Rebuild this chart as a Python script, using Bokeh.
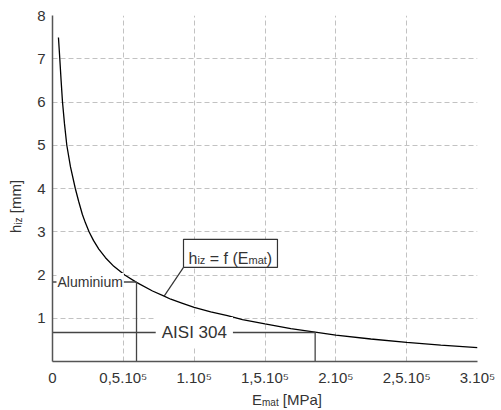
from bokeh.plotting import figure
from bokeh.models import Range1d, FixedTicker, Label, BoxAnnotation, Div
from bokeh.layouts import row, column
from bokeh.embed import file_html
from bokeh.resources import INLINE

# ---- data ----
E_curve = [4200, 5150, 6070, 7060, 8450, 10100, 12700, 16100, 18500, 21100,
           23300, 25800, 28900, 32700, 37400, 43300, 51000, 59300, 70600, 78800,
           83500, 91300, 100000, 111700, 123500, 134100, 150000, 168200, 185400,
           200000, 224700, 250000, 274100, 300000]
h_curve = [7.49, 7.00, 6.50, 6.00, 5.50, 5.00, 4.50, 4.00, 3.70, 3.40,
           3.20, 3.00, 2.80, 2.60, 2.40, 2.20, 2.00, 1.83, 1.63, 1.51,
           1.44, 1.35, 1.25, 1.15, 1.06, 0.97, 0.87, 0.76, 0.68,
           0.61, 0.52, 0.44, 0.38, 0.32]

materials = ["Aluminium", "AISI 304"]
E_mat = [59300, 185400]
h_mat = [1.84, 0.67]

x_ticks = [0, 50000, 100000, 150000, 200000, 250000, 300000]
x_tick_labels = ["0", "0,5.10\u2075", "1.10\u2075", "1,5.10\u2075", "2.10\u2075", "2,5.10\u2075", "3.10\u2075"]
y_ticks = [1, 2, 3, 4, 5, 6, 7, 8]
y_tick_labels = ["1", "2", "3", "4", "5", "6", "7", "8"]

x_title = ("E", "mat", "[MPa]")
y_title = ("h", "iz", "[mm]")
formula = ("h", "iz", " = f (E", "mat", ")")

FONT = "Liberation Sans"
TXT = "#333333"

p = figure(width=471, height=389, output_backend="svg", toolbar_location=None,
           x_range=Range1d(0, 300000), y_range=Range1d(0, 8),
           min_border_left=22, min_border_right=24, min_border_top=15, min_border_bottom=28)
p.outline_line_color = None
p.background_fill_color = "white"
p.border_fill_color = "white"

for ax, ticks, labels in ((p.xaxis[0], x_ticks, x_tick_labels), (p.yaxis[0], y_ticks, y_tick_labels)):
    ax.ticker = FixedTicker(ticks=ticks)
    ax.major_label_overrides = {t: l for t, l in zip(ticks, labels)}
    ax.major_tick_line_color = None
    ax.minor_tick_line_color = None
    ax.major_tick_out = 0
    ax.major_tick_in = 0
    ax.axis_line_color = "#555555"
    ax.axis_line_width = 1.5
    ax.major_label_text_font = FONT
    ax.major_label_text_font_size = "15px"
    ax.major_label_text_color = TXT
    ax.major_label_standoff = 7

p.xgrid.ticker = FixedTicker(ticks=x_ticks)
p.ygrid.ticker = FixedTicker(ticks=y_ticks)
for g in (p.xgrid[0], p.ygrid[0]):
    g.grid_line_color = "#c2c2c2"
    g.grid_line_dash = "5 3"
    g.grid_line_width = 1

# curve
p.line(E_curve, h_curve, line_color="black", line_width=1.3)

# material reference lines
for e, h in zip(E_mat, h_mat):
    p.line([0, e], [h, h], line_color="#444444", line_width=1.5)
    p.line([e, e], [0, h], line_color="#444444", line_width=1.3)

p.add_layout(Label(x=0, y=h_mat[0], x_offset=4, text=materials[0], text_font=FONT,
                   text_font_size="14px", text_color=TXT, text_baseline="middle",
                   text_align="left", background_fill_color="white", padding=1))
p.add_layout(Label(x=E_mat[1] * 0.54, y=h_mat[1], text=materials[1], text_font=FONT,
                   text_font_size="17px", text_color=TXT, text_baseline="middle",
                   text_align="center", background_fill_color="white", padding=6))

# character advance widths (Arial metrics, per em)
W = {'h': .556, 'i': .222, 'z': .5, ' ': .278, '\u00a0': .278, 'm': .833,
     '=': .584, 'f': .278, '(': .333, ')': .333, 'E': .667, 'a': .556, 't': .278}

def width(s, size):
    return sum(W.get(c, .556) for c in s) * size

def rich(x, y, parts, x0=0):
    off = 0
    for txt, size, shift in parts:
        txt = txt.replace(" ", "\u00a0")
        p.add_layout(Label(x=x, y=y, text=txt, text_font=FONT, text_font_size=f"{size}px",
                           text_color=TXT, text_baseline="alphabetic", text_align="left",
                           x_offset=x0 + off, y_offset=-shift))
        off += width(txt, size)

# formula box with leader line
box_l, box_r, box_b, box_t = 92470, 158800, 2.176, 2.824
p.line([78800, box_l], [1.51, box_b], line_color="#333333", line_width=1.2)
p.add_layout(BoxAnnotation(left=box_l, right=box_r, bottom=box_b, top=box_t,
                           fill_color="white", fill_alpha=1.0,
                           line_color="#333333", line_alpha=1.0, line_width=1.2,
                           level="annotation"))
sizes = (16, 11, 16, 11, 16)
shifts = (0, 1, 0, 1, 0)
rich(box_l, 2.37, list(zip(formula, sizes, shifts)), x0=5)

# axis titles (with subscripts) as HTML next to the plot
base = f"font-family:'{FONT}'; font-size:15px; line-height:1; color:{TXT}; white-space:nowrap;"
sub = "font-size:10px; position:relative; top:1px;"
ydiv = Div(width=30, height=389, margin=0, text=(
    f"<div style='position:relative; width:30px; height:389px;'>"
    f"<div style=\"position:absolute; left:8px; top:233px; transform-origin:0 0; "
    f"transform:rotate(-90deg); {base}\">{y_title[0]}<span style='{sub}'>{y_title[1]}</span>"
    f"&nbsp;{y_title[2]}</div></div>"))
xdiv = Div(width=501, height=21, margin=0, text=(
    f"<div style='position:relative; width:501px; height:21px;'>"
    f"<div style=\"position:absolute; left:252px; top:3px; {base}\">{x_title[0]}"
    f"<span style='{sub}'>{x_title[1]}</span>&nbsp;{x_title[2]}</div></div>"))

layout = column(row(ydiv, p, spacing=0), xdiv, spacing=0)
open("out.html", "w").write(file_html(layout, INLINE))
